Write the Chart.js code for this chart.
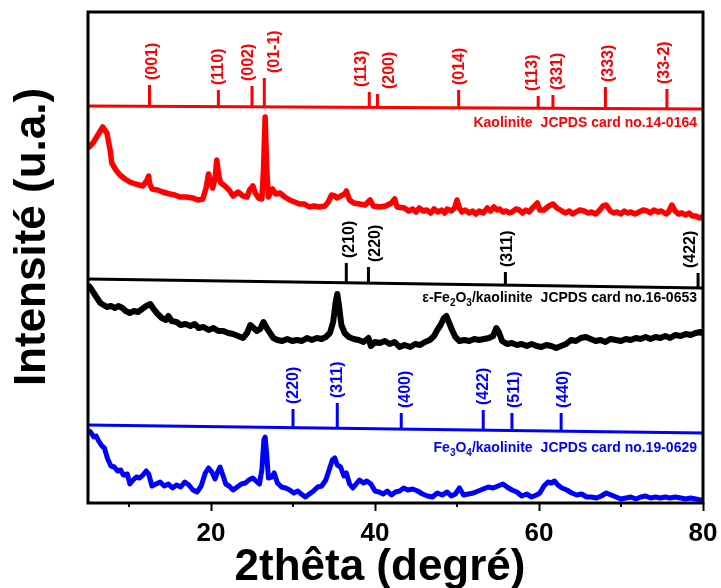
<!DOCTYPE html>
<html lang="fr">
<head>
<meta charset="UTF-8">
<title>DRX kaolinite / oxydes de fer</title>
<script src="https://cdn.jsdelivr.net/npm/chart.js"></script>
<style>
  html, body { margin: 0; padding: 0; background: #fff; }
</style>
</head>
<body>
<canvas id="xrd" width="721" height="588"></canvas>
<script>
// --- x axis
const xTicks = [10, 20, 30, 40, 50, 60, 70, 80];
const xLabelled = [20, 40, 60, 80];

// --- measured patterns (2theta, intensity a.u.)
const kaoTheta = [5.0,5.6,6.2,6.8,7.3,7.7,7.9,8.4,8.9,9.5,10.1,10.8,11.7,12.2,12.4,12.5,12.8,13.5,14.1,15.0,15.6,16.2,17.0,17.8,18.4,19.0,19.4,19.7,20.0,20.2,20.5,20.7,21.0,21.2,21.7,22.2,22.7,23.3,23.9,24.4,24.7,25.1,25.4,25.8,26.2,26.4,26.6,26.8,27.0,27.3,27.5,27.9,28.4,29.0,29.6,30.2,30.8,31.4,32.0,32.6,33.2,33.9,34.3,34.7,35.1,35.4,35.8,36.3,36.5,36.9,37.4,38.1,38.8,39.4,39.8,40.5,41.3,42.0,42.4,42.7,43.6,44.1,44.6,45.0,45.4,45.9,46.3,46.8,47.2,47.7,48.1,48.5,48.8,49.3,49.7,50.0,50.3,50.6,51.0,51.5,51.9,52.3,52.7,53.2,53.7,54.1,54.5,54.9,55.2,55.6,56.0,56.4,56.7,57.2,57.6,58.0,58.4,58.8,59.2,59.8,60.1,60.6,61.2,61.7,62.2,62.8,63.2,63.7,64.1,64.5,65.0,65.5,66.0,66.4,66.9,67.3,67.8,68.2,68.7,69.1,69.5,70.0,70.4,70.8,71.2,71.7,72.2,72.7,73.2,73.6,74.0,74.5,74.9,75.5,75.8,76.2,76.6,77.0,77.4,77.9,78.3,78.7,79.1,79.6,80.0];
const kaoCounts = [355,360,368,376,370,353,340,333,328,324,321,319,317,323,327,320,314,313,311,309,308,306,306,305,303,304,315,329,321,315,325,343,325,320,317,313,307,311,307,306,313,317,310,305,304,333,386,333,306,311,314,309,310,306,303,301,299,299,296,297,296,297,301,308,307,305,307,309,312,303,300,299,298,303,297,296,297,300,304,296,295,292,294,291,295,292,293,290,294,291,293,290,294,292,295,303,295,291,293,290,292,289,292,290,295,292,296,293,294,291,292,290,291,294,293,290,293,291,295,300,293,293,297,299,295,292,290,292,289,291,293,292,290,291,289,292,297,298,292,290,291,289,292,290,291,289,291,293,292,290,293,291,292,289,291,298,292,289,290,288,290,287,287,285,287,286,289];

const hemTheta = [5.0,5.4,5.7,6.1,6.5,6.9,7.3,7.8,8.3,8.7,9.2,9.6,10.1,10.6,11.1,11.6,12.1,12.6,13.0,13.5,14.0,14.5,14.8,15.2,15.8,16.3,16.9,17.5,18.0,18.5,19.1,19.7,20.3,20.9,21.5,22.1,22.7,23.3,23.9,24.4,24.8,25.2,25.6,26.0,26.4,26.8,27.2,27.6,28.1,28.7,29.3,29.9,30.5,31.1,31.7,32.3,32.9,33.5,34.0,34.5,34.9,35.2,35.4,35.6,35.9,36.3,36.8,37.4,38.0,38.6,39.2,39.5,40.0,40.6,41.2,41.8,42.4,43.0,43.6,44.3,44.9,45.5,46.1,46.7,47.2,47.6,48.0,48.4,48.7,49.0,49.4,49.8,50.3,50.9,51.5,52.1,52.7,53.3,53.9,54.4,54.8,55.1,55.5,56.1,56.7,57.3,57.9,58.5,59.1,59.7,60.3,60.9,61.5,62.1,62.7,63.3,63.9,64.5,65.1,65.7,66.3,66.9,67.5,68.1,68.7,69.4,70.0,70.6,71.2,71.8,72.4,73.0,73.6,74.2,74.8,75.4,76.0,76.6,77.3,77.9,78.5,79.1,79.7,80.0];
const hemCounts = [218,214,210,205,200,198,196,197,195,197,195,192,190,192,191,194,197,199,194,189,185,183,187,182,181,178,179,177,179,175,176,173,175,172,172,170,169,167,165,170,178,175,172,174,181,175,170,165,163,162,164,162,163,162,165,163,165,164,166,170,181,201,209,198,178,170,166,164,163,161,165,157,161,160,162,159,161,156,158,156,159,158,161,163,167,173,178,185,187,181,173,166,162,163,162,164,163,164,165,167,175,171,162,159,160,158,159,157,159,157,156,158,157,155,157,159,163,162,165,166,164,162,163,161,164,163,162,164,163,165,164,166,164,166,165,167,165,168,167,169,168,170,171,169];

const magTheta = [5.1,5.4,5.7,6.0,6.3,6.7,7.0,7.4,7.8,8.2,8.6,9.0,9.3,9.8,10.1,10.5,10.9,11.3,11.7,12.1,12.4,12.8,13.3,13.8,14.3,14.8,15.3,15.8,16.3,16.8,17.3,17.8,18.3,18.8,19.3,19.7,20.1,20.5,20.8,21.1,21.4,21.8,22.2,22.7,23.2,23.7,24.2,24.6,25.1,25.5,25.9,26.2,26.45,26.6,26.8,27.0,27.4,27.7,28.1,28.6,29.1,29.6,30.1,30.6,31.0,31.5,32.0,32.5,33.0,33.5,34.0,34.4,34.8,35.1,35.4,35.8,36.2,36.5,36.9,37.3,37.7,38.1,38.6,39.0,39.5,40.0,40.5,41.0,41.5,42.0,42.5,43.0,43.5,44.0,44.6,45.2,45.8,46.4,47.0,47.6,48.2,48.8,49.3,49.8,50.3,50.8,51.4,52.0,52.6,53.2,53.8,54.4,55.0,55.6,56.1,56.7,57.3,57.9,58.5,59.1,59.7,60.1,60.6,61.1,61.5,61.9,62.3,62.8,63.4,64.0,64.6,65.2,65.8,66.4,67.0,67.6,68.2,68.8,69.4,70.0,70.6,71.2,71.8,72.4,73.0,73.6,74.2,74.8,75.4,76.0,76.6,77.3,77.9,78.5,79.1,79.7,80.0];
const magCounts = [73,70,66,67,62,57,55,44,37,36,32,33,28,29,19,23,26,25,28,32,29,17,19,21,17,19,15,18,16,21,18,13,11,17,30,35,31,24,31,36,29,19,17,13,16,19,20,23,25,22,19,33,63,66,48,25,26,30,20,16,15,13,10,12,9,6,9,12,16,17,23,33,43,45,38,36,27,30,19,15,19,23,20,22,19,12,11,9,12,8,11,12,15,13,14,12,9,7,6,10,8,11,7,9,15,8,9,10,12,14,16,15,17,19,16,13,11,7,9,6,8,10,17,21,20,22,18,15,13,10,8,9,6,6,5,7,10,8,6,4,5,6,4,6,7,5,6,5,6,5,6,5,4,5,4,3,3];

// --- reference cards (stick positions, stick tops, hkl, baseline at 5 and 80)
const kaoPeaks = [12.5, 20.9, 25.0, 26.5, 39.3, 40.3, 50.2, 59.9, 61.7, 68.1, 75.6];
const kaoTops = [418, 413, 417, 425, 411, 409, 413, 407, 408, 416, 414];
const kaoHkl = ['(001)', '(110)', '(002)', '(01-1)', '(113)', '(200)', '(014)', '(113)', '(331)', '(333)', '(33-2)'];
const kaoBase = [397, 394];

const hemPeaks = [36.5, 39.2, 55.9, 79.4];
const hemTops = [240, 236, 231, 230];
const hemHkl = ['(210)', '(220)', '(311)', '(422)'];
const hemBase = [224, 215];

const magPeaks = [30.0, 35.4, 43.2, 53.2, 56.7, 62.7];
const magTops = [94, 100, 90, 93, 90, 90];
const magHkl = ['(220)', '(311)', '(400)', '(422)', '(511)', '(440)'];
const magBase = [78, 70];

const phaseNames = ['Kaolinite', 'ε-Fe2O3/kaolinite', 'Fe3O4/kaolinite'];
const cardNames = ['JCPDS card no.14-0164', 'JCPDS card no.16-0653', 'JCPDS card no.19-0629'];
const colors = ['#ff0000', '#000000', '#0000ff'];

const FONT = '"Liberation Sans", Arial, sans-serif';

function pts(xs, ys) {
    return xs.map((x, i) => ({ x: x, y: ys[i] }));
}
function baseAt(base, p) {
    return base[0] + (base[1] - base[0]) * (p - 5) / 75;
}
function sticks(peaks, tops, base) {
    const out = [];
    peaks.forEach((p, i) => {
        out.push({ x: p, y: baseAt(base, p) }, { x: p, y: tops[i] }, { x: p, y: null });
    });
    return out;
}

// label nudges (px) so crowded hkl labels don't overlap, as in the figure
const refs = [
    { peaks: kaoPeaks, tops: kaoTops, hkl: kaoHkl, base: kaoBase, dx: [2, -1, -4, 9, -9, 11, 0, -7, 4, 2, -3] },
    { peaks: hemPeaks, tops: hemTops, hkl: hemHkl, base: hemBase, dx: [2, 6, 1, -8] },
    { peaks: magPeaks, tops: magTops, hkl: magHkl, base: magBase, dx: [0, -1, 3, -1, 2, 1] }
];

const datasets = [
    { data: pts(kaoTheta, kaoCounts), borderColor: colors[0], borderWidth: 5.5 },
    { data: pts(hemTheta, hemCounts), borderColor: colors[1], borderWidth: 6 },
    { data: pts(magTheta, magCounts), borderColor: colors[2], borderWidth: 5 }
];
refs.forEach((r, k) => {
    datasets.push({ data: [{ x: 5, y: r.base[0] }, { x: 80, y: r.base[1] }], borderColor: colors[k], borderWidth: 3 });
    datasets.push({ data: sticks(r.peaks, r.tops, r.base), borderColor: colors[k], borderWidth: 3, spanGaps: false });
});

// text drawn with digits as subscripts
function drawFormula(ctx, text, xRight, y) {
    const big = 'bold 14px ' + FONT, small = 'bold 10px ' + FONT;
    let w = 0;
    for (const ch of text) {
        ctx.font = /\d/.test(ch) ? small : big;
        w += ctx.measureText(ch).width;
    }
    let x = xRight - w;
    for (const ch of text) {
        const sub = /\d/.test(ch);
        ctx.font = sub ? small : big;
        ctx.fillText(ch, x, sub ? y + 5 : y);
        x += ctx.measureText(ch).width;
    }
}

const decor = {
    id: 'decor',
    afterDraw(chart) {
        const { ctx, chartArea: a, scales: { x, y } } = chart;
        ctx.save();
        // frame
        ctx.strokeStyle = '#000';
        ctx.lineWidth = 3;
        ctx.strokeRect(a.left, a.top, a.right - a.left, a.bottom - a.top);
        // minor ticks
        ctx.lineWidth = 2;
        xTicks.filter(v => !xLabelled.includes(v)).forEach(v => {
            const px = x.getPixelForValue(v);
            ctx.beginPath();
            ctx.moveTo(px, a.bottom);
            ctx.lineTo(px, a.bottom + 4);
            ctx.stroke();
        });
        // hkl labels
        ctx.font = 'bold 16px ' + FONT;
        ctx.textAlign = 'left';
        ctx.textBaseline = 'middle';
        refs.forEach((r, k) => {
            ctx.fillStyle = colors[k];
            r.peaks.forEach((p, i) => {
                ctx.save();
                ctx.translate(x.getPixelForValue(p) + 1 + r.dx[i], y.getPixelForValue(r.tops[i]) - 5);
                ctx.rotate(-Math.PI / 2);
                ctx.fillText(r.hkl[i], 0, 0);
                ctx.restore();
            });
        });
        // card captions
        const dy = [14, 10, 15];
        refs.forEach((r, k) => {
            ctx.fillStyle = colors[k];
            const cy = y.getPixelForValue(r.base[1]) + dy[k];
            const right = a.right - 6;
            ctx.font = 'bold 14px ' + FONT;
            ctx.textAlign = 'right';
            ctx.fillText(cardNames[k], right, cy);
            const cw = ctx.measureText(cardNames[k]).width;
            ctx.textAlign = 'left';
            drawFormula(ctx, phaseNames[k], right - cw - 8, cy);
        });
        // axis titles
        ctx.fillStyle = '#000';
        ctx.font = 'bold 44px ' + FONT;
        ctx.textAlign = 'center';
        ctx.textBaseline = 'alphabetic';
        ctx.fillText('2thêta (degré)', 380, 580);
        ctx.save();
        ctx.translate(33, 237);
        ctx.rotate(-Math.PI / 2);
        ctx.textBaseline = 'middle';
        ctx.fillText('Intensité (u.a.)', 0, 0);
        ctx.restore();
        ctx.restore();
    }
};

new Chart(document.getElementById('xrd'), {
    type: 'line',
    data: { datasets: datasets },
    options: {
        responsive: false,
        animation: false,
        elements: { point: { radius: 0 }, line: { tension: 0, borderJoinStyle: 'round', borderCapStyle: 'butt' } },
        layout: { autoPadding: false, padding: { left: 88, top: 12, right: 18, bottom: 0 } },
        plugins: { legend: { display: false }, tooltip: { enabled: false } },
        scales: {
            x: {
                type: 'linear',
                min: 5,
                max: 80,
                offset: false,
                afterBuildTicks: s => { s.ticks = xTicks.map(v => ({ value: v })); },
                afterFit: s => { s.height = 85; s.paddingLeft = 0; s.paddingRight = 0; },
                border: { display: false },
                grid: {
                    drawOnChartArea: false,
                    drawTicks: true,
                    tickLength: 8,
                    tickWidth: 2,
                    tickColor: c => (c.tick && xLabelled.includes(c.tick.value)) ? '#000' : 'rgba(0,0,0,0)'
                },
                ticks: {
                    autoSkip: false,
                    maxRotation: 0,
                    padding: 7,
                    color: '#000',
                    font: { family: FONT, size: 26, weight: 'bold' },
                    callback: v => xLabelled.includes(v) ? String(v) : ''
                }
            },
            y: { display: false, min: 0, max: 491 }
        }
    },
    plugins: [decor]
});
</script>
</body>
</html>
